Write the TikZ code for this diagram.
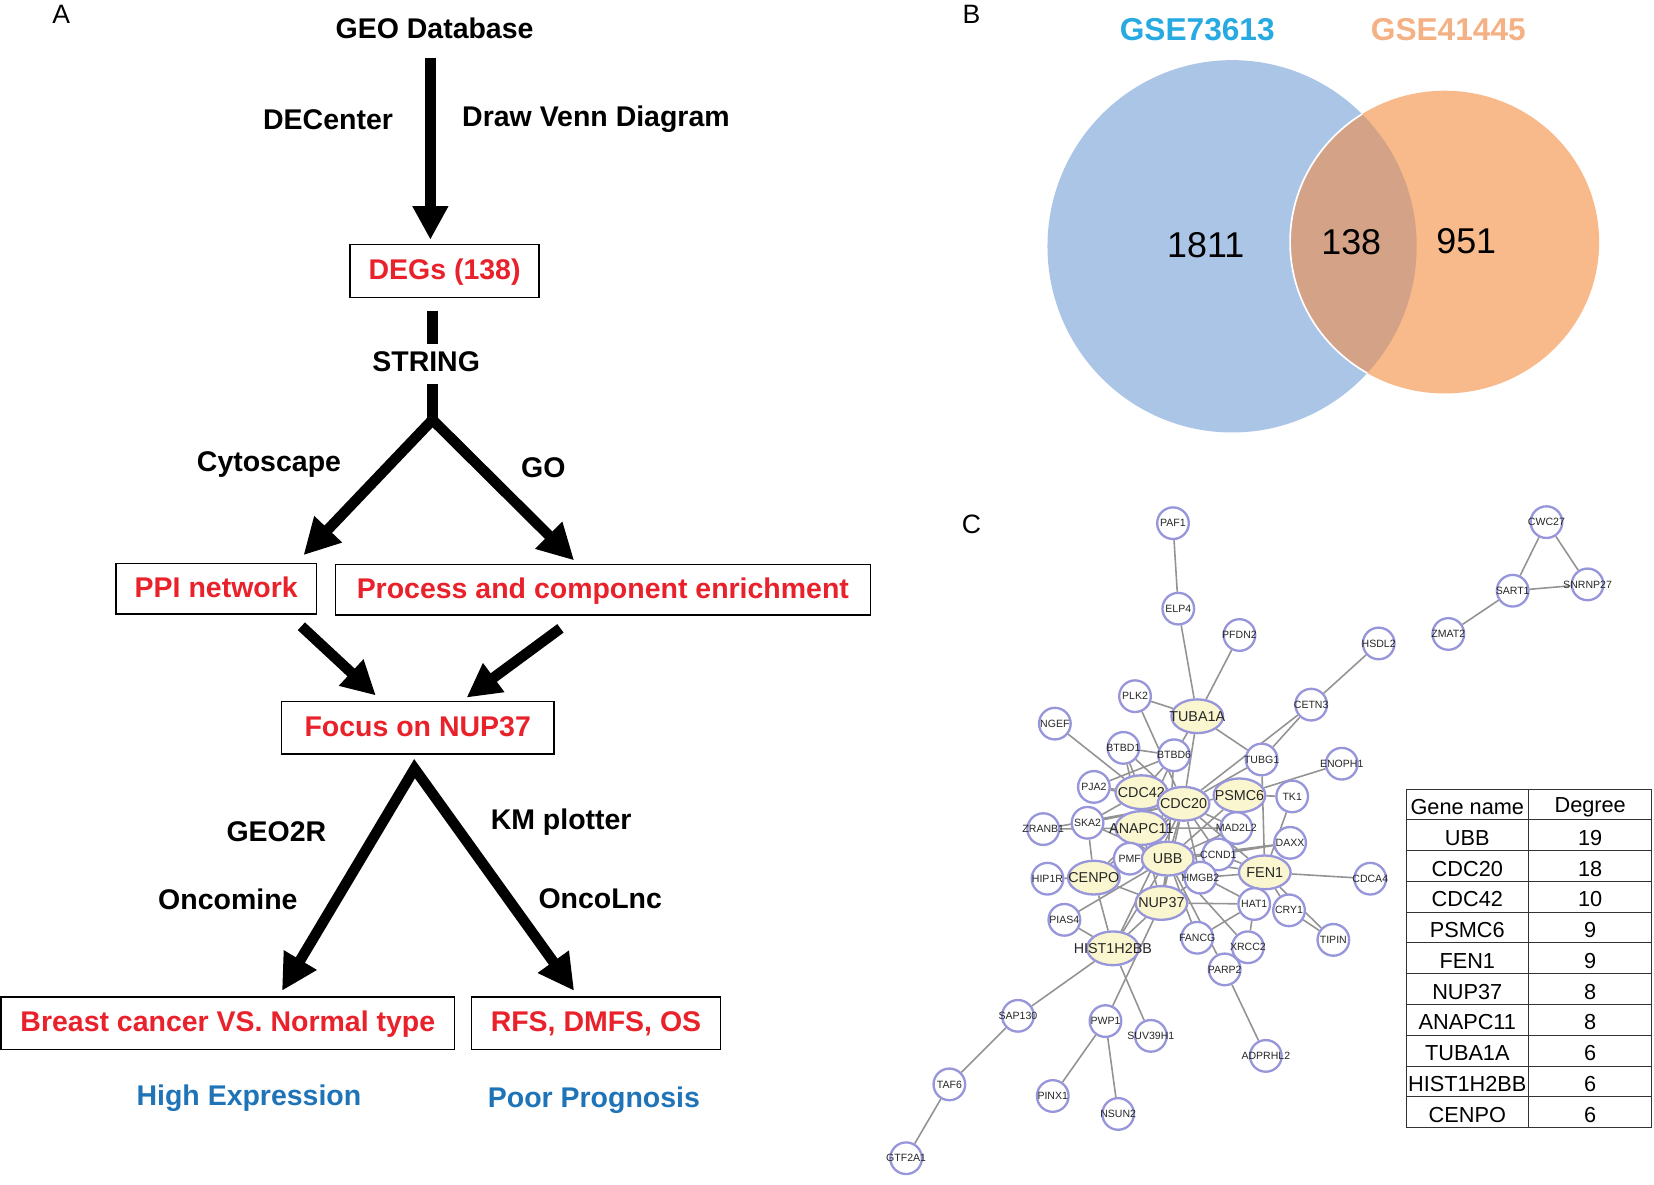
\documentclass[tikz,border=0pt]{standalone}
\usepackage{fontspec}
\setmainfont{Liberation Sans}
\usetikzlibrary{arrows.meta,shapes.geometric,calc,backgrounds}

\definecolor{flowred}{HTML}{E8212B}
\definecolor{flowblue}{HTML}{1F73B7}
\definecolor{gsecyan}{HTML}{27AAE1}
\definecolor{gseorange}{HTML}{F4B183}
\definecolor{vennblue}{HTML}{ABC5E6}
\definecolor{vennorange}{HTML}{F8B98B}
\definecolor{vennmix}{HTML}{D4A287}
\definecolor{genering}{HTML}{9896DA}
\definecolor{hubfill}{HTML}{FAF6D0}
\definecolor{edgegray}{HTML}{939393}

\def\unit{0.5pt}
\def\flowfont{\fontsize{13.5}{16}\selectfont\bfseries}
\newcommand\gn[1]{\makebox[0pt]{#1}}

\begin{document}
\begin{tikzpicture}[x=\unit, y=-\unit,
    panel/.style={font=\fontsize{12.6}{14}\selectfont},
    flowlabel/.style={font=\flowfont},
    flowbox/.style={draw, line width=0.7pt, minimum height=25pt, text=flowred, font=\flowfont, text height=1.05em, text depth=0.25em},
    outcome/.style={text=flowblue, font=\flowfont},
    shaft/.style={line width=5pt},
    bigarrow/.style={line width=5pt, -{Triangle[length=16pt,width=16pt]}},
    forkarrow/.style={line width=5pt, {Triangle[length=17pt,width=17pt]}-{Triangle[length=17pt,width=17pt]}},
    gene/.style={circle, draw=genering, line width=1.1pt, fill=white, minimum size=15pt, inner sep=0pt, text=black!85, font=\fontsize{5}{5.5}\selectfont},
    hub/.style={ellipse, draw=genering, line width=1.1pt, fill=hubfill, minimum width=24.5pt, minimum height=16pt, inner sep=0pt, text=black!85, font=\fontsize{6.8}{7}\selectfont},
    ppiedge/.style={draw=edgegray, line width=0.75pt},
    tabtext/.style={font=\fontsize{10.3}{12}\selectfont}]
  \useasboundingbox (0,0) rectangle (1568,1123);

  % panel A
  \node[panel] (pa) at (58,14) {A};
  \node[flowlabel] (geo) at (412,27) {GEO Database};
  \node[flowlabel] (decenter) at (311,113) {DECenter};
  \node[flowlabel] (drawvenn) at (565,113) {Draw Venn Diagram};
  \node[flowbox, minimum width=89.5pt] (degs) at (421.5,257) {DEGs (138)};
  \node[flowlabel] (string) at (404,343) {STRING};
  \coordinate (fork) at (410,398);
  \node[flowlabel] (cytoscape) at (255,440) {Cytoscape};
  \node[flowlabel] (golabel) at (515,443) {GO};
  \node[flowbox, minimum width=95pt, minimum height=24pt] (ppi) at (205,558) {PPI network};
  \node[flowbox, minimum width=253.5pt, minimum height=24pt] (procbox) at (571.5,559) {Process and component enrichment};
  \node[flowbox, minimum width=129pt] (focus) at (396,690) {Focus on NUP37};
  \node[flowlabel] (geo2r) at (262,788) {GEO2R};
  \node[flowlabel] (oncomine) at (216,853) {Oncomine};
  \node[flowlabel] (kmplotter) at (532,779) {KM plotter};
  \node[flowlabel] (oncolnc) at (569,852) {OncoLnc};
  \node[flowbox, minimum width=215pt] (breast) at (216,970) {Breast cancer VS. Normal type};
  \node[flowbox, minimum width=118pt] (rfs) at (565,970) {RFS, DMFS, OS};
  \node[outcome] (highexpr) at (236,1041) {High Expression};
  \node[outcome] (poorprog) at (563,1043) {Poor Prognosis};

  \draw[bigarrow, shorten <=5.5pt, shorten >=2pt] ([xshift=-2pt]geo.south) -- ([xshift=-2pt]geo.south |- degs.north);
  \draw[shaft, shorten <=6pt] (degs.south -| fork) -- (string.north -| fork);
  \draw[shaft, shorten <=2pt] (string.south -| fork) -- (fork);
  \draw[forkarrow] ($(ppi.north east)+(-13,-7)$) -- (fork) -- ($(procbox.north west)+(227,-3)$);
  \draw[bigarrow] ($(ppi.south east)+(-15,11)$) -- ($(focus.north west)+(90,-5)$);
  \draw[bigarrow] ($(procbox.south west)+(214,12)$) -- ($(focus.north west)+(176,-3)$);
  \draw[forkarrow] ($(breast.north west)+(267,-5)$) -- ($(focus.south)+(-3,13)$) -- ($(rfs.north west)+(98,-5)$);

  % panel B
  \node[panel] (pb) at (921,14) {B};
  \node[font=\fontsize{15}{18}\selectfont\bfseries, text=gsecyan] (gseleft) at (1135,28) {GSE73613};
  \node[font=\fontsize{15}{18}\selectfont\bfseries, text=gseorange] (gseright) at (1373,28) {GSE41445};
  \fill[vennblue] (1168,233.5) ellipse [x radius=87.5pt, y radius=88.25pt];
  \fill[vennorange] (1369.5,229.5) ellipse [x radius=73.25pt, y radius=71.75pt];
  \begin{scope}
    \clip (1168,233.5) ellipse [x radius=87.5pt, y radius=88.25pt];
    \fill[vennmix] (1369.5,229.5) ellipse [x radius=73.25pt, y radius=71.75pt];
    \draw[white, line width=0.8pt] (1369.5,229.5) ellipse [x radius=73.25pt, y radius=71.75pt];
  \end{scope}
  \node[font=\fontsize{17}{20}\selectfont] (onlyleft) at (1143,232) {1811};
  \node[font=\fontsize{17}{20}\selectfont] (both) at (1281,230) {138};
  \node[font=\fontsize{17}{20}\selectfont] (onlyright) at (1390,229) {951};

  % panel C
  \node[panel] (pc) at (921,497) {C};
  \node[gene] (PAF1) at (1112,496) {\gn{PAF1}};
  \node[gene] (ELP4) at (1117,577) {\gn{ELP4}};
  \node[gene] (PFDN2) at (1175,602) {\gn{PFDN2}};
  \node[gene] (HSDL2) at (1307,610) {\gn{HSDL2}};
  \node[gene] (CWC27) at (1466,495) {\gn{CWC27}};
  \node[gene] (SART1) at (1434,560) {\gn{SART1}};
  \node[gene] (SNRNP27) at (1505,554) {\gn{SNRNP27}};
  \node[gene] (ZMAT2) at (1373,601) {\gn{ZMAT2}};
  \node[gene] (PLK2) at (1076,660) {\gn{PLK2}};
  \node[hub] (TUBA1A) at (1135,679) {\gn{TUBA1A}};
  \node[gene] (CETN3) at (1243,668) {\gn{CETN3}};
  \node[gene] (NGEF) at (1000,686) {\gn{NGEF}};
  \node[gene] (BTBD1) at (1065,709) {\gn{BTBD1}};
  \node[gene] (BTBD6) at (1113,716) {\gn{BTBD6}};
  \node[gene] (TUBG1) at (1196,720) {\gn{TUBG1}};
  \node[gene] (ENOPH1) at (1272,724) {\gn{ENOPH1}};
  \node[gene] (PJA2) at (1037,746) {\gn{PJA2}};
  \node[hub] (CDC42) at (1082,751) {\gn{CDC42}};
  \node[hub] (CDC20) at (1122,762) {\gn{CDC20}};
  \node[hub] (PSMC6) at (1175,754) {\gn{PSMC6}};
  \node[gene] (TK1) at (1225,755) {\gn{TK1}};
  \node[gene] (ZRANB1) at (989,786) {\gn{ZRANB1}};
  \node[gene] (SKA2) at (1031,780) {\gn{SKA2}};
  \node[hub] (ANAPC11) at (1082,785) {\gn{ANAPC11}};
  \node[gene] (MAD2L2) at (1172,785) {\gn{MAD2L2}};
  \node[gene] (DAXX) at (1223,799) {\gn{DAXX}};
  \node[gene] (CCND1) at (1155,810) {\gn{CCND1}};
  \node[gene] (PMF) at (1071,814) {\gn{PMF}};
  \node[hub] (UBB) at (1107,814) {\gn{UBB}};
  \node[gene] (HMGB2) at (1138,832) {\gn{HMGB2}};
  \node[hub] (FEN1) at (1199,827) {\gn{FEN1}};
  \node[gene] (CDCA4) at (1299,833) {\gn{CDCA4}};
  \node[gene] (HIP1R) at (993,833) {\gn{HIP1R}};
  \node[hub] (CENPO) at (1037,832) {\gn{CENPO}};
  \node[hub] (NUP37) at (1101,856) {\gn{NUP37}};
  \node[gene] (HAT1) at (1189,857) {\gn{HAT1}};
  \node[gene] (CRY1) at (1222,863) {\gn{CRY1}};
  \node[gene] (PIAS4) at (1009,872) {\gn{PIAS4}};
  \node[gene] (TIPIN) at (1264,891) {\gn{TIPIN}};
  \node[gene] (FANCG) at (1135,889) {\gn{FANCG}};
  \node[gene] (XRCC2) at (1183,898) {\gn{XRCC2}};
  \node[hub] (HIST1H2BB) at (1055,899) {\gn{HIST1H2BB}};
  \node[gene] (PARP2) at (1161,919) {\gn{PARP2}};
  \node[gene] (SAP130) at (965,963) {\gn{SAP130}};
  \node[gene] (PWP1) at (1048,968) {\gn{PWP1}};
  \node[gene] (SUV39H1) at (1091,982) {\gn{SUV39H1}};
  \node[gene] (ADPRHL2) at (1200,1001) {\gn{ADPRHL2}};
  \node[gene] (TAF6) at (900,1028) {\gn{TAF6}};
  \node[gene] (PINX1) at (998,1039) {\gn{PINX1}};
  \node[gene] (NSUN2) at (1060,1056) {\gn{NSUN2}};
  \node[gene] (GTF2A1) at (859,1098) {\gn{GTF2A1}};

  \begin{scope}[on background layer]
    \draw[ppiedge] (PAF1) -- (ELP4) (ELP4) -- (TUBA1A) (PFDN2) -- (TUBA1A) (HSDL2) -- (CETN3)
      (CETN3) -- (TUBG1) (CETN3) -- (CDC20) (CWC27) -- (SART1) (CWC27) -- (SNRNP27)
      (SART1) -- (SNRNP27) (SART1) -- (ZMAT2);
    \draw[ppiedge] (PLK2) -- (TUBA1A) (PLK2) -- (CDC20) (TUBA1A) -- (TUBG1) (TUBA1A) -- (CDC20)
      (TUBA1A) -- (BTBD6) (NGEF) -- (CDC42) (BTBD1) -- (BTBD6) (BTBD1) -- (CDC42)
      (BTBD1) -- (CDC20) (BTBD1) -- (ANAPC11) (BTBD6) -- (CDC42) (BTBD6) -- (ANAPC11)
      (BTBD6) -- (PJA2) (BTBD6) -- (UBB) (PJA2) -- (CDC42) (PJA2) -- (CDC20);
    \draw[ppiedge] (TUBG1) -- (CDC20) (TUBG1) -- (FEN1) (ENOPH1) -- (PSMC6) (TK1) -- (PSMC6)
      (TK1) -- (FEN1) (ZRANB1) -- (ANAPC11) (ZRANB1) -- (CDC20) (SKA2) -- (CDC42)
      (SKA2) -- (CDC20) (SKA2) -- (UBB) (SKA2) -- (CENPO);
    \draw[ppiedge] (CENPO) -- (UBB) (CENPO) -- (ANAPC11) (CENPO) -- (NUP37) (CENPO) -- (CDC20)
      (CENPO) -- (HIST1H2BB) (HIP1R) -- (CENPO) (PIAS4) -- (UBB) (PIAS4) -- (HIST1H2BB)
      (HIST1H2BB) -- (UBB) (HIST1H2BB) -- (NUP37) (HIST1H2BB) -- (SAP130)
      (HIST1H2BB) -- (SUV39H1) (HIST1H2BB) -- (CDC20);
    \draw[ppiedge] (PWP1) -- (NUP37) (PWP1) -- (PINX1) (PWP1) -- (NSUN2) (SAP130) -- (TAF6)
      (TAF6) -- (GTF2A1) (PARP2) -- (ADPRHL2) (PARP2) -- (UBB) (FANCG) -- (UBB)
      (FANCG) -- (HAT1) (XRCC2) -- (UBB) (XRCC2) -- (HAT1);
    \draw[ppiedge] (HAT1) -- (NUP37) (HAT1) -- (UBB) (HAT1) -- (FEN1) (CRY1) -- (TIPIN)
      (FEN1) -- (TIPIN) (CRY1) -- (FEN1) (FEN1) -- (CDCA4) (FEN1) -- (CCND1)
      (FEN1) -- (HMGB2) (FEN1) -- (UBB) (FEN1) -- (CDC20) (DAXX) -- (CCND1) (DAXX) -- (UBB);
    \draw[ppiedge] (MAD2L2) -- (CDC20) (MAD2L2) -- (UBB) (MAD2L2) -- (ANAPC11)
      (CCND1) -- (UBB) (CCND1) -- (CDC20) (HMGB2) -- (UBB) (HMGB2) -- (NUP37) (HMGB2) -- (CDC20)
      (NUP37) -- (UBB) (NUP37) -- (CDC20) (NUP37) -- (ANAPC11);
    \draw[ppiedge] (UBB) -- (CDC20) (UBB) -- (ANAPC11) (UBB) -- (CDC42) (UBB) -- (PSMC6)
      (UBB) -- (PMF) (CDC20) -- (CDC42) (CDC20) -- (ANAPC11) (CDC20) -- (PSMC6)
      (PMF) -- (CDC20) (PMF) -- (CENPO) (PMF) -- (ANAPC11);
  \end{scope}

  % degree table
  \draw[line width=0.5pt, black!80] (1333,748) rectangle (1566,1069);
  \draw[line width=0.5pt, black!80] (1449,748) -- (1449,1069);
  \foreach \r in {1,...,10}
    \draw[line width=0.5pt, black!80] (1333,{748+29.18*\r}) -- (1566,{748+29.18*\r});
  \foreach \g/\d [count=\r from 0] in {Gene name/Degree, UBB/19, CDC20/18, CDC42/10, PSMC6/9,
      FEN1/9, NUP37/8, ANAPC11/8, TUBA1A/6, HIST1H2BB/6, CENPO/6} {
    \node[tabtext] (gname\r) at (1391,{765+29.18*\r}) {\g};
    \node[tabtext] (gdeg\r) at (1507.5,{765+29.18*\r}) {\d};
  }
\end{tikzpicture}
\end{document}
